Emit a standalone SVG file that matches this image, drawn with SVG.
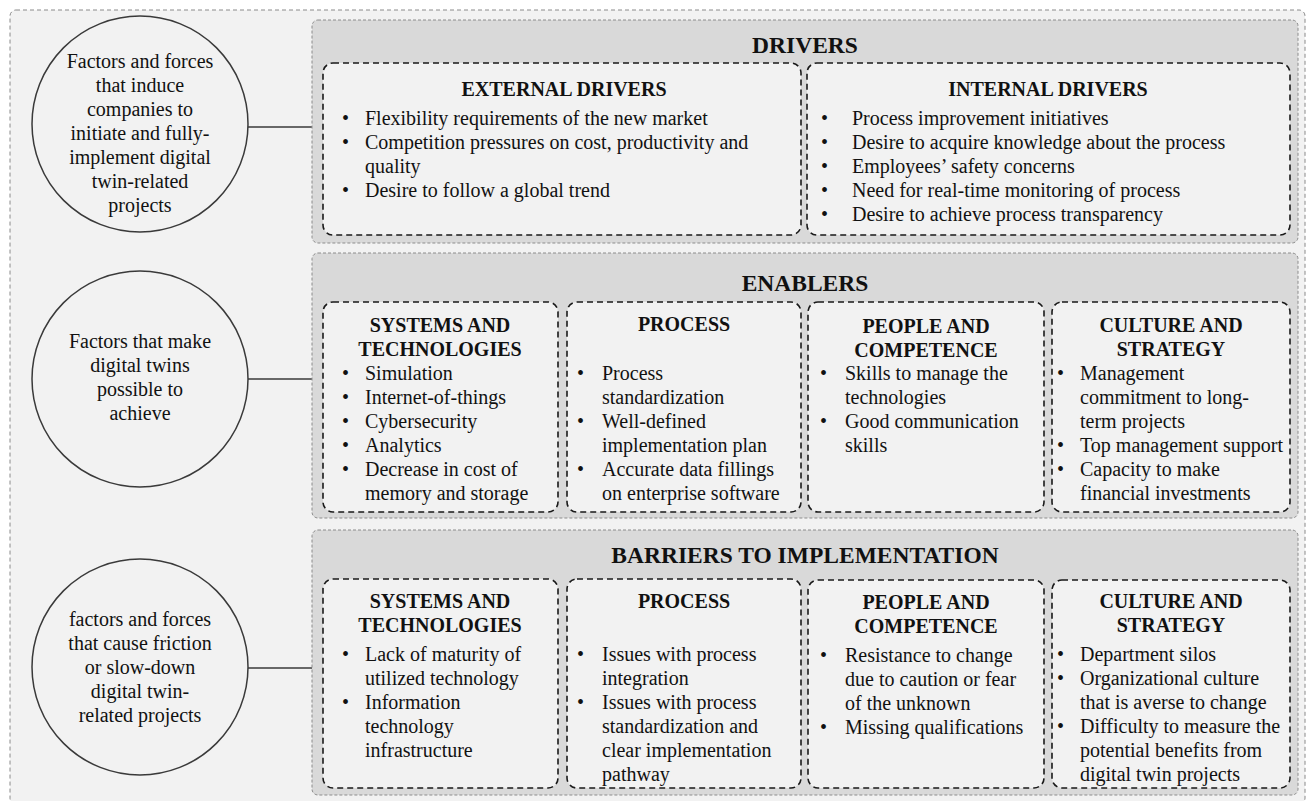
<svg xmlns="http://www.w3.org/2000/svg" width="1309" height="801" viewBox="0 0 1309 801" font-family="'Liberation Serif', 'DejaVu Serif', serif">
  <style>
    .frame { fill: #f2f2f2; stroke: #8a8a8a; stroke-width: 1; stroke-dasharray: 4 3; }
    .panel { fill: #d9d9d9; stroke: #8c8c8c; stroke-width: 1; stroke-dasharray: 3 2; }
    .box { fill: #f2f2f2; stroke: #1a1a1a; stroke-width: 1.6; stroke-dasharray: 6 4; }
    .circle { fill: #f2f2f2; stroke: #3a3a3a; stroke-width: 1.5; }
    .link { stroke: #3a3a3a; stroke-width: 1.3; fill: none; }
    text { font-family: 'Liberation Serif', 'DejaVu Serif', serif; fill: #111; }
    .title { font-size: 23.5px; font-weight: bold; text-anchor: middle; }
    .head { font-size: 20px; font-weight: bold; text-anchor: middle; }
    .txt { font-size: 20px; }
    .mid { font-size: 20px; text-anchor: middle; }
  </style>

  <!-- outer dashed frame -->
  <rect class="frame" x="10" y="10" width="1295" height="794" rx="6"/>

  <!-- connectors from the definition circles to the panels -->
  <g id="connectors">
    <line class="link" x1="248" y1="127" x2="312" y2="127"/>
    <line class="link" x1="248" y1="379" x2="312" y2="379"/>
    <line class="link" x1="248" y1="668" x2="312" y2="668"/>
  </g>

  <!-- definition circles -->
  <g id="def-drivers">
    <circle class="circle" cx="140" cy="124" r="108"/>
    <text class="mid" x="140" y="68">Factors and forces</text>
    <text class="mid" x="140" y="92">that induce</text>
    <text class="mid" x="140" y="116">companies to</text>
    <text class="mid" x="140" y="140">initiate and fully-</text>
    <text class="mid" x="140" y="164">implement digital</text>
    <text class="mid" x="140" y="188">twin-related</text>
    <text class="mid" x="140" y="212">projects</text>
  </g>
  <g id="def-enablers">
    <circle class="circle" cx="140" cy="379" r="108"/>
    <text class="mid" x="140" y="348">Factors that make</text>
    <text class="mid" x="140" y="372">digital twins</text>
    <text class="mid" x="140" y="396">possible to</text>
    <text class="mid" x="140" y="420">achieve</text>
  </g>
  <g id="def-barriers">
    <circle class="circle" cx="140" cy="667" r="108"/>
    <text class="mid" x="140" y="626">factors and forces</text>
    <text class="mid" x="140" y="650">that cause friction</text>
    <text class="mid" x="140" y="674">or slow-down</text>
    <text class="mid" x="140" y="698">digital twin-</text>
    <text class="mid" x="140" y="722">related projects</text>
  </g>

  <!-- DRIVERS -->
  <g id="drivers">
    <rect class="panel" x="312" y="20" width="986" height="223" rx="6"/>
    <text class="title" x="805" y="53">DRIVERS</text>
  </g>
  <g id="external-drivers">
    <rect class="box" x="323" y="63" width="478" height="172" rx="10"/>
    <text class="head" x="564" y="96">EXTERNAL DRIVERS</text>
    <text class="txt" x="342" y="125">•</text><text class="txt" x="365" y="125">Flexibility requirements of the new market</text>
    <text class="txt" x="342" y="149">•</text><text class="txt" x="365" y="149">Competition pressures on cost, productivity and</text>
    <text class="txt" x="365" y="173">quality</text>
    <text class="txt" x="342" y="197">•</text><text class="txt" x="365" y="197">Desire to follow a global trend</text>
  </g>
  <g id="internal-drivers">
    <rect class="box" x="807" y="63" width="483" height="172" rx="10"/>
    <text class="head" x="1048" y="96">INTERNAL DRIVERS</text>
    <text class="txt" x="821" y="125">•</text><text class="txt" x="852" y="125">Process improvement initiatives</text>
    <text class="txt" x="821" y="149">•</text><text class="txt" x="852" y="149">Desire to acquire knowledge about the process</text>
    <text class="txt" x="821" y="173">•</text><text class="txt" x="852" y="173">Employees’ safety concerns</text>
    <text class="txt" x="821" y="197">•</text><text class="txt" x="852" y="197">Need for real-time monitoring of process</text>
    <text class="txt" x="821" y="221">•</text><text class="txt" x="852" y="221">Desire to achieve process transparency</text>
  </g>

  <!-- ENABLERS -->
  <g id="enablers">
    <rect class="panel" x="312" y="253" width="986" height="265" rx="6"/>
    <text class="title" x="805" y="291">ENABLERS</text>
  </g>
  <g id="enablers-systems">
    <rect class="box" x="323" y="302" width="235" height="210" rx="10"/>
    <text class="head" x="440" y="332">SYSTEMS AND</text>
    <text class="head" x="440" y="356">TECHNOLOGIES</text>
    <text class="txt" x="342" y="380">•</text><text class="txt" x="365" y="380">Simulation</text>
    <text class="txt" x="342" y="404">•</text><text class="txt" x="365" y="404">Internet-of-things</text>
    <text class="txt" x="342" y="428">•</text><text class="txt" x="365" y="428">Cybersecurity</text>
    <text class="txt" x="342" y="452">•</text><text class="txt" x="365" y="452">Analytics</text>
    <text class="txt" x="342" y="476">•</text><text class="txt" x="365" y="476">Decrease in cost of</text>
    <text class="txt" x="365" y="500">memory and storage</text>
  </g>
  <g id="enablers-process">
    <rect class="box" x="567" y="302" width="234" height="210" rx="10"/>
    <text class="head" x="684" y="331">PROCESS</text>
    <text class="txt" x="577" y="380">•</text><text class="txt" x="602" y="380">Process</text>
    <text class="txt" x="602" y="404">standardization</text>
    <text class="txt" x="577" y="428">•</text><text class="txt" x="602" y="428">Well-defined</text>
    <text class="txt" x="602" y="452">implementation plan</text>
    <text class="txt" x="577" y="476">•</text><text class="txt" x="602" y="476">Accurate data fillings</text>
    <text class="txt" x="602" y="500">on enterprise software</text>
  </g>
  <g id="enablers-people">
    <rect class="box" x="808" y="302" width="236" height="210" rx="10"/>
    <text class="head" x="926" y="333">PEOPLE AND</text>
    <text class="head" x="926" y="357">COMPETENCE</text>
    <text class="txt" x="820" y="380">•</text><text class="txt" x="845" y="380">Skills to manage the</text>
    <text class="txt" x="845" y="404">technologies</text>
    <text class="txt" x="820" y="428">•</text><text class="txt" x="845" y="428">Good communication</text>
    <text class="txt" x="845" y="452">skills</text>
  </g>
  <g id="enablers-culture">
    <rect class="box" x="1052" y="302" width="238" height="210" rx="10"/>
    <text class="head" x="1171" y="332">CULTURE AND</text>
    <text class="head" x="1171" y="356">STRATEGY</text>
    <text class="txt" x="1057" y="380">•</text><text class="txt" x="1080" y="380">Management</text>
    <text class="txt" x="1080" y="404">commitment to long-</text>
    <text class="txt" x="1080" y="428">term projects</text>
    <text class="txt" x="1057" y="452">•</text><text class="txt" x="1080" y="452">Top management support</text>
    <text class="txt" x="1057" y="476">•</text><text class="txt" x="1080" y="476">Capacity to make</text>
    <text class="txt" x="1080" y="500">financial investments</text>
  </g>

  <!-- BARRIERS TO IMPLEMENTATION -->
  <g id="barriers">
    <rect class="panel" x="312" y="530" width="986" height="265" rx="6"/>
    <text class="title" x="805" y="563">BARRIERS TO IMPLEMENTATION</text>
  </g>
  <g id="barriers-systems">
    <rect class="box" x="323" y="579" width="235" height="209" rx="10"/>
    <text class="head" x="440" y="608">SYSTEMS AND</text>
    <text class="head" x="440" y="632">TECHNOLOGIES</text>
    <text class="txt" x="342" y="661">•</text><text class="txt" x="365" y="661">Lack of maturity of</text>
    <text class="txt" x="365" y="685">utilized technology</text>
    <text class="txt" x="342" y="709">•</text><text class="txt" x="365" y="709">Information</text>
    <text class="txt" x="365" y="733">technology</text>
    <text class="txt" x="365" y="757">infrastructure</text>
  </g>
  <g id="barriers-process">
    <rect class="box" x="567" y="579" width="234" height="209" rx="10"/>
    <text class="head" x="684" y="608">PROCESS</text>
    <text class="txt" x="577" y="661">•</text><text class="txt" x="602" y="661">Issues with process</text>
    <text class="txt" x="602" y="685">integration</text>
    <text class="txt" x="577" y="709">•</text><text class="txt" x="602" y="709">Issues with process</text>
    <text class="txt" x="602" y="733">standardization and</text>
    <text class="txt" x="602" y="757">clear implementation</text>
    <text class="txt" x="602" y="781">pathway</text>
  </g>
  <g id="barriers-people">
    <rect class="box" x="808" y="580" width="236" height="208" rx="10"/>
    <text class="head" x="926" y="609">PEOPLE AND</text>
    <text class="head" x="926" y="633">COMPETENCE</text>
    <text class="txt" x="820" y="662">•</text><text class="txt" x="845" y="662">Resistance to change</text>
    <text class="txt" x="845" y="686">due to caution or fear</text>
    <text class="txt" x="845" y="710">of the unknown</text>
    <text class="txt" x="820" y="734">•</text><text class="txt" x="845" y="734">Missing qualifications</text>
  </g>
  <g id="barriers-culture">
    <rect class="box" x="1052" y="580" width="238" height="208" rx="10"/>
    <text class="head" x="1171" y="608">CULTURE AND</text>
    <text class="head" x="1171" y="632">STRATEGY</text>
    <text class="txt" x="1057" y="661">•</text><text class="txt" x="1080" y="661">Department silos</text>
    <text class="txt" x="1057" y="685">•</text><text class="txt" x="1080" y="685">Organizational culture</text>
    <text class="txt" x="1080" y="709">that is averse to change</text>
    <text class="txt" x="1057" y="733">•</text><text class="txt" x="1080" y="733">Difficulty to measure the</text>
    <text class="txt" x="1080" y="757">potential benefits from</text>
    <text class="txt" x="1080" y="781">digital twin projects</text>
  </g>
</svg>
